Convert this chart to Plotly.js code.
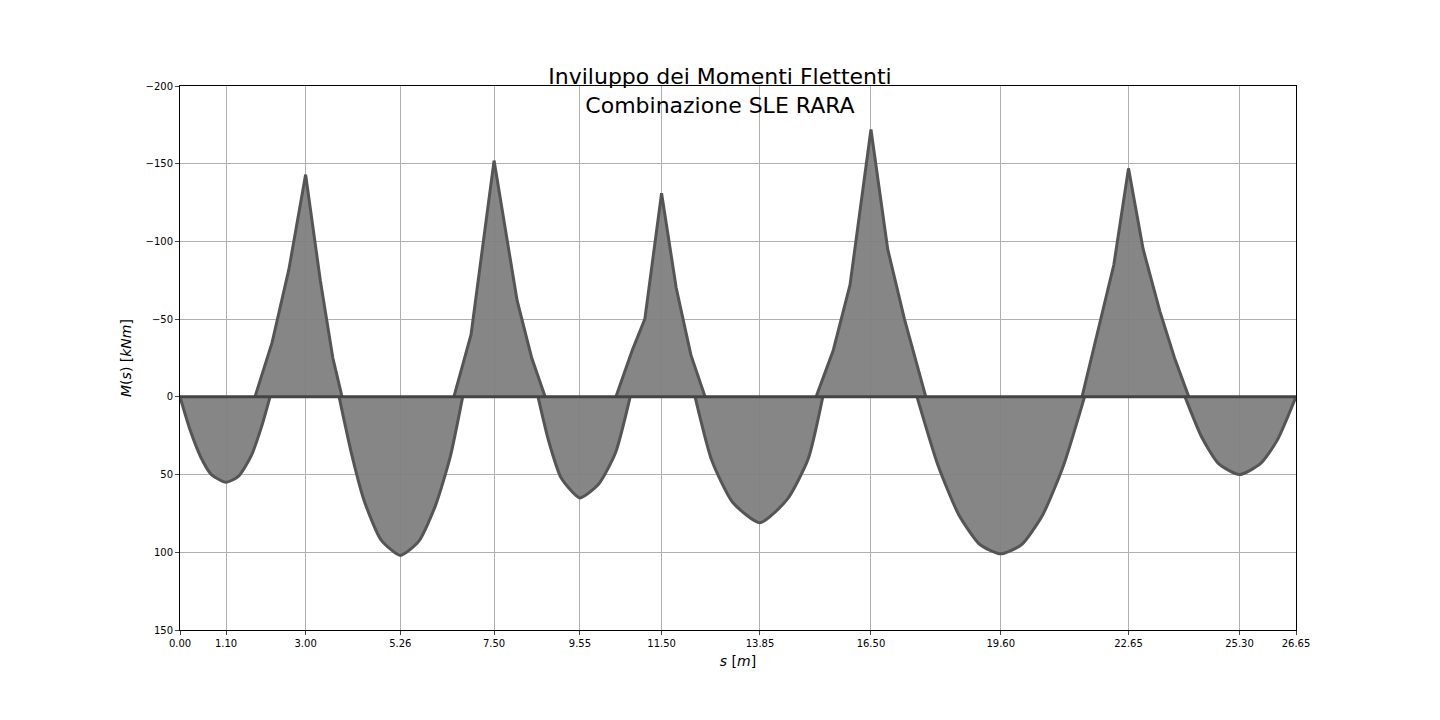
<!DOCTYPE html>
<html>
<head>
<meta charset="utf-8">
<script src="https://cdn.plot.ly/plotly-3.0.1.min.js"></script>
<style>body{margin:0;background:#fff}#plot{width:1440px;height:720px}</style>
</head>
<body>
<div id="plot"></div>
<script>
// tick positions on the beam (supports and midspans)
const xTicks = [0.00, 1.10, 3.00, 5.26, 7.50, 9.55, 11.50, 13.85, 16.50, 19.60, 22.65, 25.30, 26.65];
const yTicks = [-200, -150, -100, -50, 0, 50, 100, 150];

// sagging lobes (positive moment, drawn downward)
const sagS = [
  [0, 0.25, 0.5, 0.75, 1.1, 1.4, 1.7, 1.95, 2.15],
  [3.8, 4.1, 4.4, 4.8, 5.26, 5.7, 6.1, 6.45, 6.75],
  [8.55, 8.8, 9.1, 9.55, 10.0, 10.4, 10.75],
  [12.3, 12.7, 13.2, 13.85, 14.5, 15.0, 15.35],
  [17.6, 18.1, 18.6, 19.1, 19.6, 20.1, 20.6, 21.1, 21.6],
  [24.0, 24.4, 24.8, 25.3, 25.8, 26.2, 26.65]
];
const sagM = [
  [0, 22, 39, 50, 55, 51, 38, 19, 0],
  [0, 37, 67, 92, 102, 93, 70, 39, 0],
  [0, 28, 52, 65, 56, 36, 0],
  [0, 41, 68, 81, 66, 40, 0],
  [0, 44, 76, 95, 101, 95, 76, 44, 0],
  [0, 26, 43, 50, 43, 28, 0]
];

// hogging lobes over the supports (negative moment, drawn upward)
const hogS = [
  [1.79, 2.2, 2.6, 3.0, 3.35, 3.65, 3.87],
  [6.54, 6.95, 7.5, 7.85, 8.05, 8.4, 8.72],
  [10.41, 10.8, 11.1, 11.5, 11.85, 12.2, 12.54],
  [15.19, 15.6, 16.0, 16.5, 16.9, 17.3, 17.81],
  [21.54, 21.95, 22.3, 22.65, 23.0, 23.4, 23.75, 24.09]
];
const hogM = [
  [0, -35, -82, -143, -75, -25, 0],
  [0, -40, -152, -95, -62, -25, 0],
  [0, -30, -50, -131, -70, -27, 0],
  [0, -30, -72, -172, -95, -50, 0],
  [0, -45, -85, -147, -95, -55, -25, 0]
];

const data = [];
function addLobe(xs, ys, shape) {
  data.push({
    x: xs, y: ys, type: 'scatter', mode: 'lines',
    fill: 'tozeroy', fillcolor: 'rgba(128,128,128,0.95)',
    line: {color: '#555555', width: 3, shape: shape, smoothing: 0.6},
    hoverinfo: 'x+y', showlegend: false
  });
}
for (let i = 0; i < sagS.length; i++) addLobe(sagS[i], sagM[i], 'spline');
for (let i = 0; i < hogS.length; i++) addLobe(hogS[i], hogM[i], 'linear');

// beam axis
data.push({
  x: [xTicks[0], xTicks[xTicks.length - 1]], y: [0, 0],
  type: 'scatter', mode: 'lines', line: {color: '#444444', width: 3},
  showlegend: false, hoverinfo: 'skip'
});

const layout = {
  width: 1440, height: 720,
  paper_bgcolor: '#fff', plot_bgcolor: '#fff',
  font: {family: 'DejaVu Sans', color: '#000'},
  margin: {l: 180, r: 144, t: 86, b: 90},
  title: {
    text: 'Inviluppo dei Momenti Flettenti<br>Combinazione SLE RARA',
    font: {size: 22}, x: 0.5, xanchor: 'center',
    yref: 'paper', y: 1, yanchor: 'bottom', pad: {b: 2}
  },
  xaxis: {
    range: [0, 26.65], tickvals: xTicks,
    ticktext: xTicks.map(v => v.toFixed(2)),
    tickfont: {size: 10}, ticks: 'outside', ticklen: 4,
    showgrid: true, gridcolor: '#b0b0b0', zeroline: false,
    showline: true, linecolor: '#000', mirror: true,
    title: {text: '<i>s</i> [<i>m</i>]', font: {size: 14}, standoff: 8}
  },
  yaxis: {
    range: [150, -200], tickvals: yTicks,
    ticktext: yTicks.map(v => v < 0 ? '\u2212' + (-v) : String(v)),
    tickfont: {size: 10}, ticks: 'outside', ticklen: 4,
    showgrid: true, gridcolor: '#b0b0b0', zeroline: false,
    showline: true, linecolor: '#000', mirror: true,
    title: {text: '<i>M</i>(<i>s</i>) [<i>kNm</i>]', font: {size: 14}, standoff: 10}
  }
};

Plotly.newPlot('plot', data, layout, {staticPlot: true});
</script>
</body>
</html>
